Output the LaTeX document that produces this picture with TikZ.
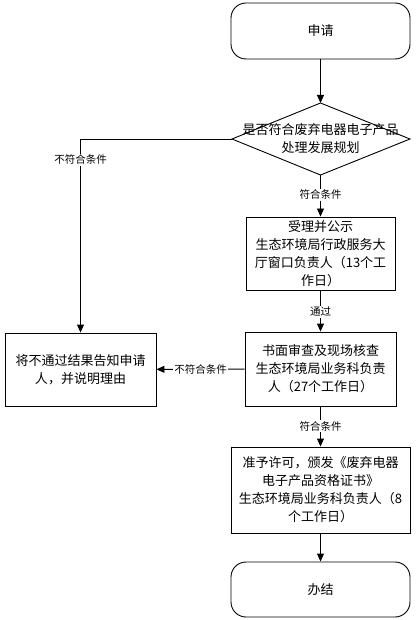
\documentclass[tikz,border=0pt]{standalone}
\usepackage{fontspec}
\setmainfont{Noto Sans CJK SC}
\usetikzlibrary{arrows.meta}
\begin{document}
\begin{tikzpicture}[x=1pt,y=-1pt,
  box/.style={draw, line width=0.9pt, align=center, inner sep=0pt,
    font=\fontsize{13}{18}\selectfont},
  term/.style={box, rounded corners=15pt},
  lbl/.style={fill=white, inner sep=1pt, font=\fontsize{10.5}{12}\selectfont},
  arr/.style={line width=0.9pt, -{Triangle[length=8pt,width=7pt]}}]
\useasboundingbox (0,0) rectangle (416,620);
\node[term, minimum width=179pt, minimum height=56pt] (start) at (320.5,31) {申请};
% diamond
\coordinate (dtop) at (320.5,103);
\coordinate (dleft) at (232,139);
\coordinate (dright) at (410,139);
\coordinate (dbottom) at (320.5,175);
\draw[line width=0.9pt] (dtop) -- (dright) -- (dbottom) -- (dleft) -- cycle;
\node[align=center, font=\fontsize{13}{18}\selectfont] (dtext) at (320.5,139) {是否符合废弃电器电子产品\\处理发展规划};
\node[box, minimum width=149pt, minimum height=73pt] (accept) at (320.5,253.5) {受理并公示\\生态环境局行政服务大\\厅窗口负责人（13个工\\作日）};
\node[box, minimum width=151pt, minimum height=74pt] (review) at (320.5,369) {书面审查及现场核查\\生态环境局业务科负责\\人（27个工作日）};
\node[box, minimum width=179pt, minimum height=86pt] (grant) at (320.5,490) {准予许可，颁发《废弃电器\\电子产品资格证书》\\生态环境局业务科负责人（8\\个工作日）};
\node[term, minimum width=179pt, minimum height=55pt] (finish) at (320.5,589.5) {办结};
\node[box, minimum width=151pt, minimum height=73pt] (reject) at (80.5,369.5) {将不通过结果告知申请\\人，并说明理由};
% connectors
\draw[arr] (start) -- (dtop);
\draw[arr] (dbottom) -- node[lbl, pos=0.48] {符合条件} (accept);
\draw[arr] (accept) -- node[lbl, pos=0.52] {通过} (review);
\draw[arr] (review) -- node[lbl, pos=0.49] {符合条件} (grant);
\draw[arr] (grant) -- (finish);
\draw[arr] (dleft) -| node[lbl, pos=0.554] {不符合条件} (reject);
\draw[arr] (review) -- node[lbl, pos=0.5] {不符合条件} (reject);
\end{tikzpicture}
\end{document}
